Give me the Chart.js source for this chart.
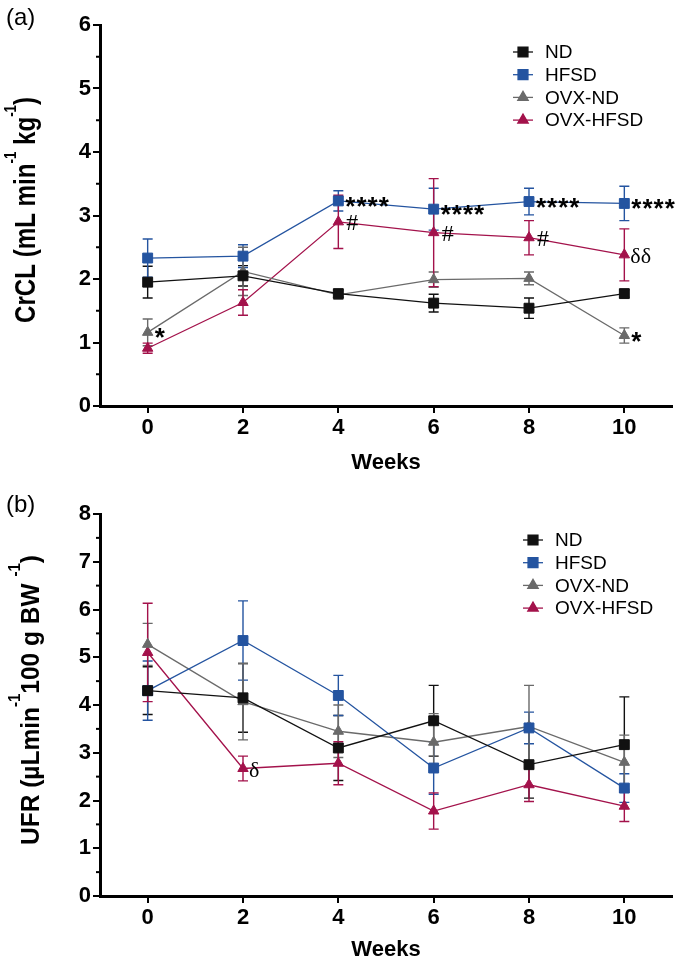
<!DOCTYPE html>
<html>
<head>
<meta charset="utf-8">
<script src="https://cdn.jsdelivr.net/npm/chart.js@4.4.0/dist/chart.umd.min.js"></script>
<style>
  body { margin: 0; background: #fff; }
  #wrap { position: relative; width: 680px; height: 965px; }
  canvas { position: absolute; left: 0; display: block; }
  #chartA { top: 0; }
  #chartB { top: 470px; }
</style>
</head>
<body>
<div id="wrap">
  <canvas id="chartA" width="680" height="480"></canvas>
  <canvas id="chartB" width="680" height="495"></canvas>
</div>
<script>
const SANS = '"Liberation Sans", Arial, Helvetica, sans-serif';
const SERIF = '"Liberation Serif", "Times New Roman", serif';

// ---- data ----
const weeks = [0, 2, 4, 6, 8, 10];
const groups = ['ND', 'HFSD', 'OVX-ND', 'OVX-HFSD'];
const xTicks = [0, 2, 4, 6, 8, 10];
const crclTicks = [0, 1, 2, 3, 4, 5, 6];
const ufrTicks = [0, 1, 2, 3, 4, 5, 6, 7, 8];

// (a) creatinine clearance, mean and SEM
const crclND = [1.95, 2.05, 1.77, 1.62, 1.54, 1.77];
const crclHFSD = [2.33, 2.36, 3.23, 3.10, 3.22, 3.19];
const crclOvxND = [1.16, 2.12, 1.75, 1.99, 2.01, 1.11];
const crclOvxHFSD = [0.91, 1.63, 2.90, 2.73, 2.65, 2.38];
const crclNDErr = [0.25, 0.16, 0.06, 0.14, 0.16, 0.06];
const crclHFSDErr = [0.30, 0.18, 0.16, 0.33, 0.21, 0.27];
const crclOvxNDErr = [0.21, 0.38, 0.07, 0.12, 0.10, 0.12];
const crclOvxHFSDErr = [0.08, 0.20, 0.42, 0.85, 0.27, 0.41];

// (b) urine flow rate, mean and SEM
const ufrND = [4.30, 4.15, 3.10, 3.67, 2.75, 3.17];
const ufrHFSD = [4.30, 5.35, 4.20, 2.68, 3.52, 2.26];
const ufrOvxND = [5.27, 4.07, 3.45, 3.22, 3.55, 2.80];
const ufrOvxHFSD = [5.10, 2.67, 2.78, 1.78, 2.33, 1.88];
const ufrNDErr = [0.50, 0.72, 0.68, 0.74, 0.70, 1.00];
const ufrHFSDErr = [0.62, 0.83, 0.42, 0.55, 0.33, 0.30];
const ufrOvxNDErr = [0.44, 0.80, 0.55, 0.60, 0.86, 0.57];
const ufrOvxHFSDErr = [1.03, 0.26, 0.45, 0.38, 0.35, 0.32];

// significance marks
const crclMarks = [
  { group: 'HFSD', week: 4, text: '****' },
  { group: 'HFSD', week: 6, text: '****' },
  { group: 'HFSD', week: 8, text: '****' },
  { group: 'HFSD', week: 10, text: '****' },
  { group: 'OVX-HFSD', week: 4, text: '#' },
  { group: 'OVX-HFSD', week: 6, text: '#' },
  { group: 'OVX-HFSD', week: 8, text: '#' },
  { group: 'OVX-HFSD', week: 10, text: 'δδ' },
  { group: 'OVX-ND', week: 0, text: '*' },
  { group: 'OVX-ND', week: 10, text: '*' }
];
const ufrMarks = [
  { group: 'OVX-HFSD', week: 2, text: 'δ' }
];

// ---- styles ----
const colors = ['#111111', '#2454a0', '#6a6a6a', '#a3124b'];
const markers = ['rect', 'rect', 'triangle', 'triangle'];
const markerSize = { rect: 7, triangle: 6 };

function drawYTitle(ctx, parts, baseX, centerY, size, supSize, raise, length) {
  ctx.save();
  ctx.translate(baseX, centerY);
  ctx.rotate(-Math.PI / 2);
  let w = 0;
  parts.forEach(p => {
    ctx.font = 'bold ' + (p.sup ? supSize : size) + 'px ' + SANS;
    p.w = ctx.measureText(p.t).width;
    w += p.w;
  });
  ctx.scale(length / w, 1);
  ctx.fillStyle = '#000';
  ctx.textBaseline = 'alphabetic';
  let x = -w / 2;
  parts.forEach(p => {
    ctx.font = 'bold ' + (p.sup ? supSize : size) + 'px ' + SANS;
    ctx.fillText(p.t, x, p.sup ? -raise : 0);
    x += p.w;
  });
  ctx.restore();
}

const extras = {
  id: 'extras',
  beforeDatasetsDraw(chart) {
    const ctx = chart.ctx, xs = chart.scales.x, ys = chart.scales.y;
    ctx.save();
    chart.data.datasets.forEach(ds => {
      ctx.strokeStyle = ds.borderColor;
      ctx.lineWidth = 1.4;
      ds.data.forEach((p, j) => {
        const e = ds.errors[j];
        const x = xs.getPixelForValue(p.x);
        const y1 = ys.getPixelForValue(p.y + e);
        const y2 = ys.getPixelForValue(p.y - e);
        ctx.beginPath();
        ctx.moveTo(x, y1); ctx.lineTo(x, y2);
        ctx.moveTo(x - 5, y1); ctx.lineTo(x + 5, y1);
        ctx.moveTo(x - 5, y2); ctx.lineTo(x + 5, y2);
        ctx.stroke();
      });
    });
    ctx.restore();
  },
  afterDraw(chart, args, opts) {
    const ctx = chart.ctx, xs = chart.scales.x, ys = chart.scales.y;
    ctx.save();

    // minor ticks on y axis
    ctx.strokeStyle = '#000';
    ctx.lineWidth = 2;
    for (let v = ys.min + 0.5; v < ys.max; v += 1) {
      const y = ys.getPixelForValue(v);
      ctx.beginPath();
      ctx.moveTo(ys.right - 4, y);
      ctx.lineTo(ys.right, y);
      ctx.stroke();
    }

    // legend
    const L = opts.legend;
    chart.data.datasets.forEach((ds, i) => {
      const y = L.y + i * L.dy;
      ctx.strokeStyle = ds.borderColor;
      ctx.fillStyle = ds.backgroundColor;
      ctx.lineWidth = 1.3;
      ctx.beginPath();
      ctx.moveTo(L.x, y);
      ctx.lineTo(L.x + 20, y);
      ctx.stroke();
      Chart.helpers.drawPoint(ctx, { pointStyle: ds.pointStyle, radius: ds.pointRadius, borderWidth: 1, rotation: 0 }, L.x + 10, y);
      ctx.fillStyle = '#000';
      ctx.font = '19px ' + SANS;
      ctx.textBaseline = 'middle';
      ctx.textAlign = 'left';
      ctx.fillText(ds.label, L.x + 32, y + 1);
    });

    // significance marks
    opts.marks.forEach(m => {
      const ds = chart.data.datasets[groups.indexOf(m.group)];
      const pt = ds.data.find(p => p.x === m.week);
      const x = xs.getPixelForValue(pt.x);
      const y = ys.getPixelForValue(pt.y);
      ctx.fillStyle = '#000';
      ctx.textBaseline = 'alphabetic';
      ctx.textAlign = 'left';
      if (m.text[0] === '*') {
        ctx.font = 'bold 26px ' + SANS;
        ctx.letterSpacing = '1px';
        ctx.fillText(m.text, x + 7, y + 14);
        ctx.letterSpacing = '0px';
      } else if (m.text === '#') {
        ctx.font = '24px ' + SERIF;
        ctx.fillText(m.text, x + 8, y + 8);
      } else {
        ctx.font = '22px ' + SERIF;
        ctx.fillText(m.text, x + 6, y + 8);
      }
    });

    // y-axis title with superscripts
    const T = opts.yTitle;
    drawYTitle(ctx, T.parts, T.x, T.y, T.size, T.supSize, T.raise, T.length);

    // panel label
    ctx.fillStyle = '#000';
    ctx.font = '24px ' + SANS;
    ctx.textBaseline = 'middle';
    ctx.textAlign = 'left';
    ctx.fillText(opts.panel, 6, opts.panelY);
    ctx.restore();
  }
};

function makeDatasets(means, errs) {
  return groups.map((g, i) => ({
    label: g,
    data: weeks.map((w, j) => ({ x: w, y: means[i][j] })),
    errors: errs[i],
    borderColor: colors[i],
    backgroundColor: colors[i],
    borderWidth: 1.3,
    pointStyle: markers[i],
    pointRadius: markerSize[markers[i]],
    pointBorderWidth: 1,
    showLine: true,
    tension: 0
  }));
}

function buildChart(id, cfg) {
  const tickFont = { family: SANS, size: 22, weight: 'bold' };
  return new Chart(document.getElementById(id), {
    type: 'scatter',
    data: { datasets: makeDatasets(cfg.means, cfg.errs) },
    options: {
      responsive: false,
      animation: false,
      events: [],
      layout: { padding: { top: cfg.top, right: 7, left: 0, bottom: 0 } },
      scales: {
        x: {
          type: 'linear', min: -1, max: 11,
          afterBuildTicks: s => { s.ticks = xTicks.map(v => ({ value: v })); },
          afterFit: s => { s.height = cfg.xHeight; },
          grid: { drawOnChartArea: false, drawTicks: true, tickLength: 7, lineWidth: 2, color: '#000' },
          border: { display: true, width: 3, color: '#000' },
          ticks: { color: '#000', font: tickFont, padding: 2, maxRotation: 0 },
          title: { display: true, text: 'Weeks', color: '#000', font: tickFont, padding: { top: 0, bottom: cfg.titlePad } }
        },
        y: {
          type: 'linear', min: 0, max: cfg.yTicks[cfg.yTicks.length - 1],
          afterBuildTicks: s => { s.ticks = cfg.yTicks.map(v => ({ value: v })); },
          afterFit: s => { s.width = 100; },
          grid: { drawOnChartArea: false, drawTicks: true, tickLength: 7, lineWidth: 2, color: '#000' },
          border: { display: true, width: 3, color: '#000' },
          ticks: { color: '#000', font: tickFont, padding: 2 }
        }
      },
      plugins: {
        legend: { display: false },
        tooltip: { enabled: false },
        extras: {
          legend: cfg.legend,
          marks: cfg.marks,
          yTitle: cfg.yTitle,
          panel: cfg.panel,
          panelY: cfg.panelY
        }
      }
    },
    plugins: [extras]
  });
}

buildChart('chartA', {
  means: [crclND, crclHFSD, crclOvxND, crclOvxHFSD],
  errs: [crclNDErr, crclHFSDErr, crclOvxNDErr, crclOvxHFSDErr],
  yTicks: crclTicks,
  top: 25, xHeight: 74, titlePad: 4,
  legend: { x: 513, y: 52, dy: 22.7 },
  marks: crclMarks,
  panel: '(a)', panelY: 18,
  yTitle: {
    parts: [{ t: 'CrCL (mL min' }, { t: '-1', sup: true }, { t: ' kg' }, { t: '-1', sup: true }, { t: ')' }],
    x: 35, y: 210, size: 29, supSize: 16, raise: 19, length: 226
  }
});

buildChart('chartB', {
  means: [ufrND, ufrHFSD, ufrOvxND, ufrOvxHFSD],
  errs: [ufrNDErr, ufrHFSDErr, ufrOvxNDErr, ufrOvxHFSDErr],
  yTicks: ufrTicks,
  top: 44, xHeight: 69, titlePad: 2,
  legend: { x: 523, y: 70, dy: 22.7 },
  marks: ufrMarks,
  panel: '(b)', panelY: 35,
  yTitle: {
    parts: [{ t: 'UFR (\u00b5Lmin' }, { t: '-1', sup: true }, { t: '100 g BW ' }, { t: '-1', sup: true }, { t: ')' }],
    x: 39, y: 230, size: 26, supSize: 16, raise: 19, length: 290
  }
});
</script>
</body>
</html>
